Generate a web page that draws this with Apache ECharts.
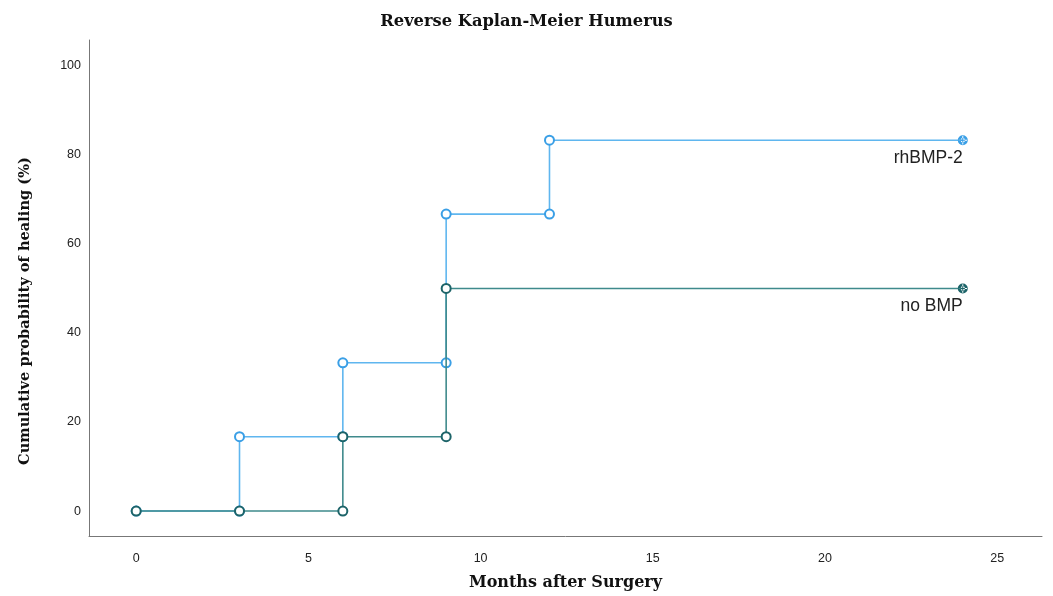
<!DOCTYPE html>
<html><head><meta charset="utf-8">
<script src="https://cdn.jsdelivr.net/npm/echarts@6/dist/echarts.min.js"></script>
<style>html,body{margin:0;padding:0;background:#fff}#c{width:1053px;height:596px}</style>
</head><body><div id="c"></div>
<script>
var rhMonths = [0, 3, 3, 6, 6, 9, 9, 12, 12, 24];
var rhValues = [0, 0, 16.7, 16.7, 33.3, 33.3, 66.7, 66.7, 83.3, 83.3];
var noMonths = [0, 3, 6, 6, 9, 9, 24];
var noValues = [0, 0, 0, 16.7, 16.7, 50, 50];
var xTicks = [0, 5, 10, 15, 20, 25];
var yTicks = [0, 20, 40, 60, 80, 100];
var seriesNames = ['rhBMP-2', 'no BMP'];

var censor = 'path://M50,0A50,50 0 1,0 50.001,0Z M50,28A22,22 0 1,1 49.999,28Z M45,8H55V92H45Z M8,45H92V55H8Z';

function pts(xs, ys){ return xs.map(function(x,i){ return [x, ys[i]]; }); }

function build(xs, ys, name, lineC, markC){
  var d = pts(xs, ys).map(function(p, i){
    var o = {value: p};
    if (i === xs.length - 1) {
      o.symbol = censor; o.symbolSize = 10;
      o.itemStyle = {color: markC, borderWidth: 0};
      o.label = {show: true, formatter: name, position: 'bottom', align: 'right', offset: [0, -1],
        color: '#222', fontFamily: 'Liberation Sans, Arial, sans-serif', fontSize: 17.5};
    }
    return o;
  });
  return {
    name: name, type: 'line', data: d, symbol: 'circle', symbolSize: 9, showSymbol: true,
    lineStyle: {color: lineC, width: 1.6},
    itemStyle: {color: '#fff', borderColor: markC, borderWidth: 2},
    emphasis: {disabled: true}, animation: false, z: name === 'no BMP' ? 3 : 2
  };
}

var chart = echarts.init(document.getElementById('c'));
chart.setOption({
  animation: false,
  title: {text: 'Reverse Kaplan-Meier Humerus', left: 'center', top: 9,
    textStyle: {fontFamily: 'DejaVu Serif, Liberation Serif, serif', fontWeight: 'bold', fontSize: 16.3, color: '#111'}},
  grid: {left: 89, right: 11, top: 40, bottom: 60, outerBoundsMode: 'none', containLabel: false},
  xAxis: {type: 'value', min: -1.37, max: 26.3,
    name: 'Months after Surgery', nameLocation: 'middle', nameGap: 39,
    nameTextStyle: {fontFamily: 'DejaVu Serif, Liberation Serif, serif', fontWeight: 'bold', fontSize: 16, color: '#111'},
    axisLine: {onZero: false, lineStyle: {color: '#777'}}, axisTick: {show: false}, splitLine: {show: false},
    axisLabel: {color: '#222', fontFamily: 'Liberation Sans, Arial, sans-serif', fontSize: 12.5, margin: 16,
      customValues: xTicks}},
  yAxis: {type: 'value', min: -5.6, max: 105.8,
    name: 'Cumulative probability of healing (%)', nameLocation: 'middle', nameGap: 56,
    nameTextStyle: {fontFamily: 'DejaVu Serif, Liberation Serif, serif', fontWeight: 'bold', fontSize: 14.6, color: '#111',
      padding: [0, 46, 0, 0]},
    axisLine: {show: true, onZero: false, lineStyle: {color: '#777'}}, axisTick: {show: false}, splitLine: {show: false},
    axisLabel: {color: '#222', fontFamily: 'Liberation Sans, Arial, sans-serif', fontSize: 12.5, margin: 8,
      customValues: yTicks}},
  series: [
    build(rhMonths, rhValues, seriesNames[0], '#5fb6ef', '#3a9fe6'),
    build(noMonths, noValues, seriesNames[1], '#3f8a8c', '#1d6469')
  ]
});
</script></body></html>
